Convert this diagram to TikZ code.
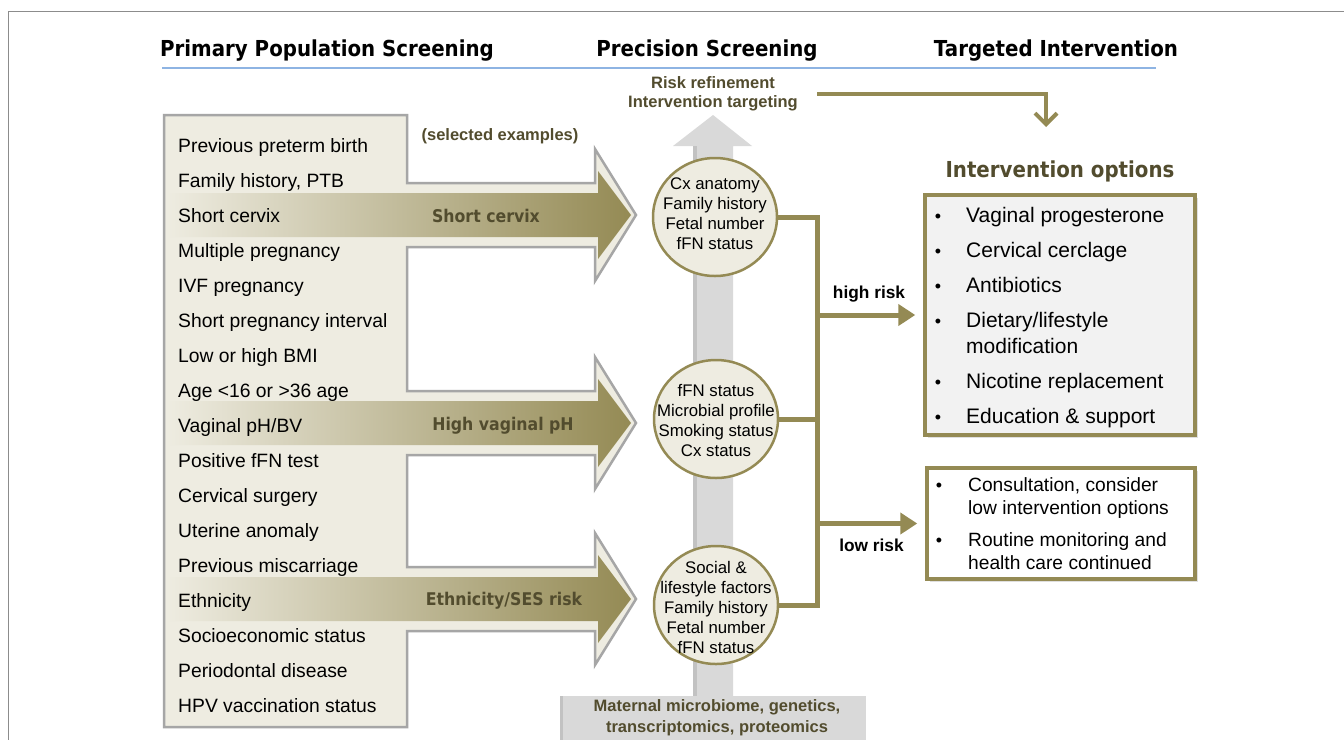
\documentclass[tikz,border=0pt]{standalone}
\usepackage{fontspec}
\setmainfont{Liberation Sans}
\newfontfamily\tah[FakeStretch=0.9]{DejaVu Sans}
\usetikzlibrary{arrows.meta,shapes.geometric,shadows}
\definecolor{cream}{HTML}{EEECE1}
\definecolor{olive}{HTML}{948A54}
\definecolor{olivemid}{HTML}{C4BD97}
\definecolor{olivedk}{HTML}{524C2E}
\definecolor{framec}{HTML}{8C8C8C}
\definecolor{hblue}{HTML}{8EB4E3}
\definecolor{lgray}{HTML}{D9D9D9}
\definecolor{dgray}{HTML}{C2C2C2}
\definecolor{mgray}{HTML}{A6A6A6}
\definecolor{boxfill}{HTML}{F2F2F2}
\tikzset{
 hdr/.style={font=\tah\bfseries\fontsize{22}{26}\selectfont, inner sep=0, anchor=base},
 item/.style={font=\fontsize{19.3}{23}\selectfont, inner sep=0, anchor=base west},
 alab/.style={font=\tah\bfseries\fontsize{17.5}{21}\selectfont, text=olivedk, inner sep=0, anchor=base},
 circ/.style={ellipse, draw=olive, line width=2.5pt, fill=cream, minimum width=124pt, minimum height=118pt, inner sep=0},
 ctext/.style={font=\fontsize{16.8}{20}\selectfont, align=center, inner sep=0},
 conn/.style={draw=olive, line width=5pt},
 riskarr/.style={conn, -{Triangle[length=17pt,width=21pt]}, shorten >=8pt},
 rlab/.style={font=\bfseries\fontsize{17.3}{20}\selectfont, inner sep=0, anchor=base},
 ibox/.style={draw=olive, line width=3.5pt, inner sep=0, drop shadow={shadow xshift=3pt, shadow yshift=-3pt, opacity=0.25}},
 bitem/.style={font=\fontsize{21}{25}\selectfont, inner sep=0, anchor=base west},
 bitemb/.style={font=\fontsize{19.2}{23}\selectfont, inner sep=0, anchor=base west},
 bul/.style={font=\fontsize{18}{20}\selectfont, inner sep=0, anchor=base}
}
\begin{document}
\begin{tikzpicture}[x=1pt,y=-1pt]
\useasboundingbox (0,0) rectangle (1344,740);
\fill[white] (0,0) rectangle (1344,740);
\draw[framec, line width=1.3pt] (1344,11.5) -- (8.5,11.5) -- (8.5,740);

% headers
\node[hdr] (h1) at (327,56) {Primary Population Screening};
\node[hdr] (h2) at (707,56) {Precision Screening};
\node[hdr] (h3) at (1056,56) {Targeted Intervention};
\draw[hblue, line width=2pt] (162,68) -- (1156,68);

% grey vertical arrow
\fill[lgray] (693,696) -- (693,146) -- (673,146) -- (713,115) -- (752,146) -- (733,146) -- (733,696) -- cycle;
\fill[dgray] (693,146) rectangle (697,696);

% bottom grey box
\fill[lgray] (560,696) rectangle (866,740);
\fill[dgray] (560,696) rectangle (563,740);
\node[font=\bfseries\fontsize{16.5}{21}\selectfont, text=olivedk, align=center, inner sep=0] (mb) at (717,718) {Maternal microbiome, genetics,\\transcriptomics, proteomics};

% left box with big arrows
\draw[mgray, line width=2.5pt, fill=cream, line join=miter]
 (164,115) -- (407,115) -- (407,183) -- (595,183) -- (595,149) -- (636,215) -- (595,281) -- (595,247) -- (407,247)
 -- (407,391) -- (595,391) -- (595,357) -- (636,423) -- (595,489) -- (595,455) -- (407,455)
 -- (407,567) -- (595,567) -- (595,533) -- (636,599) -- (595,665) -- (595,631) -- (407,631)
 -- (407,727) -- (164,727) -- cycle;
\shade[left color=cream, middle color=olivemid, right color=olive]
 (167,193) -- (598,193) -- (598,171) -- (631,215) -- (598,259) -- (598,237) -- (167,237) -- cycle;
\shade[left color=cream, middle color=olivemid, right color=olive]
 (167,401) -- (598,401) -- (598,379) -- (631,423) -- (598,467) -- (598,445) -- (167,445) -- cycle;
\shade[left color=cream, middle color=olivemid, right color=olive]
 (167,577) -- (598,577) -- (598,555) -- (631,599) -- (598,643) -- (598,621) -- (167,621) -- cycle;
\node[alab] (a1) at (486,222) {Short cervix};
\node[alab] (a2) at (503,430) {High vaginal pH};
\node[alab] (a3) at (504,605) {Ethnicity/SES risk};

\foreach \t [count=\i] in {Previous preterm birth, {Family history, PTB}, Short cervix, Multiple pregnancy, IVF pregnancy, Short pregnancy interval, Low or high BMI, Age <16 or >36 age, Vaginal pH/BV, Positive fFN test, Cervical surgery, Uterine anomaly, Previous miscarriage, Ethnicity, Socioeconomic status, Periodontal disease, HPV vaccination status}
 \node[item] (l\i) at (178,{117+35*\i}) {\t};

\node[font=\bfseries\fontsize{16.5}{19}\selectfont, text=olivedk, inner sep=0, anchor=base] (sel) at (500,140) {(selected examples)};

% risk refinement
\node[font=\bfseries\fontsize{16.5}{19}\selectfont, text=olivedk, align=center, inner sep=0] (rt) at (713,94) {Risk refinement\\Intervention targeting};
\coordinate (tgt) at (1046,127);
\draw[draw=olive, line width=4pt, -{Straight Barb[length=11pt,width=22pt]}] ([xshift=19pt]rt.east) -| (tgt);

% circles
\node[circ] (c1) at (715,217) {};
\node[circ] (c2) at (716,419) {};
\node[circ] (c3) at (716,605) {};
\node[ctext] (t1) at (715,214) {Cx anatomy\\Family history\\Fetal number\\fFN status};
\node[ctext] (t2) at (716,420) {fFN status\\Microbial profile\\Smoking status\\Cx status};
\node[ctext] (t3) at (716,607) {Social \&\\lifestyle factors\\Family history\\Fetal number\\fFN status};

% intervention boxes
\node[font=\tah\bfseries\fontsize{22}{26}\selectfont, text=olivedk, inner sep=0, anchor=base] (io) at (1060,177) {Intervention options};
\node[ibox, fill=boxfill, minimum width=270pt, minimum height=240pt] (ib1) at (1060,315) {};
\node[ibox, fill=white, minimum width=268pt, minimum height=111pt] (ib2) at (1061,523.5) {};

% connectors
\coordinate (jx) at (817,0);
\draw[conn] (c1.east) -| (c3.east -| jx) -- (c3.east);
\draw[conn] (c2.east) -- (c2.east -| jx);
\draw[riskarr] (jx |- ib1.west) -- (ib1.west);
\draw[riskarr] (jx |- ib2.west) -- (ib2.west);
\node[rlab] (hr) at (869,298.5) {high risk};
\node[rlab] (lr) at (871.5,551.5) {low risk};

% box 1 items
\node[bul] (b1) at (938,222) {•};
\node[bitem] (i1) at (966,222) {Vaginal progesterone};
\node[bul] (b2) at (938,257) {•};
\node[bitem] (i2) at (966,257) {Cervical cerclage};
\node[bul] (b3) at (938,292) {•};
\node[bitem] (i3) at (966,292) {Antibiotics};
\node[bul] (b4) at (938,327) {•};
\node[bitem] (i4) at (966,327) {Dietary/lifestyle};
\node[bitem] (i4b) at (966,353) {modification};
\node[bul] (b5) at (938,388) {•};
\node[bitem] (i5) at (966,388) {Nicotine replacement};
\node[bul] (b6) at (938,423) {•};
\node[bitem] (i6) at (966,423) {Education \& support};

% box 2 items
\node[bul] (b7) at (939,491) {•};
\node[bitemb] (j1) at (968,491) {Consultation, consider};
\node[bitemb] (j1b) at (968,514) {low intervention options};
\node[bul] (b8) at (939,546) {•};
\node[bitemb] (j2) at (968,546) {Routine monitoring and};
\node[bitemb] (j2b) at (968,569) {health care continued};
\end{tikzpicture}
\end{document}
